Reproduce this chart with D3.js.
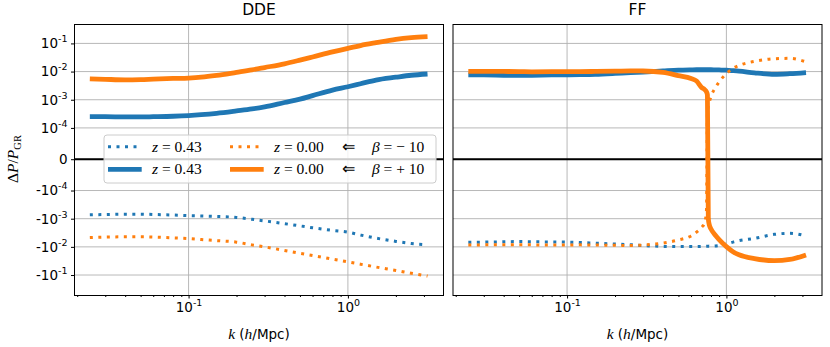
<!DOCTYPE html>
<meta charset="UTF-8">
<style>
  body { margin: 0; background: #fff; }
  text { font-family: "DejaVu Sans", sans-serif; }
  .math { font-family: "Liberation Serif", serif; }
</style>
<svg width="830" height="347"></svg>
<script src="https://d3js.org/d3.v7.min.js"></script>
<script>

// wavenumbers k (h/Mpc)
var kDDE = [0.024, 0.03, 0.04, 0.05, 0.06, 0.08, 0.1, 0.12, 0.15, 0.2, 0.25, 0.3, 0.4, 0.5, 0.6, 0.8, 1.0, 1.2, 1.5, 2.0, 2.5, 3.16];
var kFF = [0.024, 0.03, 0.04, 0.05, 0.06, 0.08, 0.1, 0.12, 0.15, 0.2, 0.25, 0.3, 0.4, 0.5, 0.6, 0.65, 0.7, 0.73, 0.75, 0.76, 0.77, 0.78, 0.8, 0.85, 0.9, 1.0, 1.1, 1.2, 1.5, 2.0, 2.5, 3.16];

// DDE: dP/P_GR, beta = -10 (dotted) and beta = +10 (solid)
var ddeZ043Minus = [-7.3e-4, -7.1e-4, -6.9e-4, -6.9e-4, -7.1e-4, -7.4e-4, -7.8e-4, -8.0e-4, -8.3e-4, -9.0e-4, -1.05e-3, -1.2e-3, -1.5e-3, -1.8e-3, -2.1e-3, -2.6e-3, -3.0e-3, -3.8e-3, -4.9e-3, -6.4e-3, -7.6e-3, -8.4e-3];
var ddeZ043Plus = [2.5e-4, 2.5e-4, 2.45e-4, 2.45e-4, 2.5e-4, 2.6e-4, 2.75e-4, 2.95e-4, 3.3e-4, 4.0e-4, 4.7e-4, 5.6e-4, 8.0e-4, 1.05e-3, 1.4e-3, 2.2e-3, 2.9e-3, 3.7e-3, 5.0e-3, 6.3e-3, 7.4e-3, 8.2e-3];
var ddeZ000Minus = [-4.7e-3, -4.5e-3, -4.4e-3, -4.4e-3, -4.5e-3, -4.8e-3, -5.1e-3, -5.5e-3, -6.0e-3, -6.8e-3, -8.5e-3, -1.0e-2, -1.34e-2, -1.69e-2, -2.02e-2, -2.72e-2, -3.42e-2, -4.13e-2, -5.2e-2, -6.9e-2, -8.7e-2, -1.09e-1];
var ddeZ000Plus = [5.5e-3, 5.3e-3, 5.1e-3, 5.2e-3, 5.4e-3, 5.7e-3, 5.9e-3, 6.3e-3, 7.3e-3, 9.4e-3, 1.15e-2, 1.39e-2, 1.89e-2, 2.55e-2, 3.3e-2, 5.0e-2, 6.7e-2, 8.4e-2, 1.06e-1, 1.4e-1, 1.6e-1, 1.73e-1];

// FF
var ffZ043Minus = [-6.9e-3, -6.8e-3, -6.6e-3, -6.5e-3, -6.6e-3, -6.7e-3, -6.8e-3, -7.0e-3, -7.4e-3, -7.9e-3, -8.4e-3, -9.0e-3, -9.6e-3, -9.8e-3, -9.8e-3, -9.8e-3, -9.7e-3, -9.6e-3, -9.5e-3, -9.5e-3, -9.5e-3, -9.4e-3, -9.4e-3, -9.3e-3, -9.0e-3, -7.9e-3, -6.8e-3, -6.0e-3, -5.0e-3, -3.6e-3, -3.3e-3, -4.1e-3];
var ffZ043Plus = [7.6e-3, 7.6e-3, 7.4e-3, 7.3e-3, 7.4e-3, 7.6e-3, 7.7e-3, 7.8e-3, 8.0e-3, 8.6e-3, 9.2e-3, 9.6e-3, 1.05e-2, 1.12e-2, 1.15e-2, 1.16e-2, 1.16e-2, 1.16e-2, 1.16e-2, 1.16e-2, 1.16e-2, 1.16e-2, 1.16e-2, 1.15e-2, 1.14e-2, 1.12e-2, 1.08e-2, 1.04e-2, 9.0e-3, 8.0e-3, 8.4e-3, 9.2e-3];
var ffZ000Minus = [-8.6e-3, -8.5e-3, -8.4e-3, -8.4e-3, -8.5e-3, -8.6e-3, -8.6e-3, -8.5e-3, -8.6e-3, -8.8e-3, -9.0e-3, -8.6e-3, -7.3e-3, -5.7e-3, -4.1e-3, -3.0e-3, -2.0e-3, -1.4e-3, -4.9e-4, 3.0e-4, 6.0e-4, 8.0e-4, 1.3e-3, 2.6e-3, 4.3e-3, 8.5e-3, 1.3e-2, 1.65e-2, 2.3e-2, 2.85e-2, 2.95e-2, 2.2e-2];
var ffZ000Plus = [1.02e-2, 1.02e-2, 1.01e-2, 1.0e-2, 9.8e-3, 9.9e-3, 1.0e-2, 1.0e-2, 1.01e-2, 1.03e-2, 1.06e-2, 1.05e-2, 9.3e-3, 7.2e-3, 5.7e-3, 4.6e-3, 2.7e-3, 2.3e-3, 1.9e-3, 1.5e-3, -1.0e-3, -1.6e-3, -2.3e-3, -3.8e-3, -5.5e-3, -9.8e-3, -1.48e-2, -1.9e-2, -2.6e-2, -3.1e-2, -2.8e-2, -1.94e-2];

var panelTitles = ["DDE", "FF"];
var yTicks = [-1e-1, -1e-2, -1e-3, -1e-4, 0, 1e-4, 1e-3, 1e-2, 1e-1];
var xMajor = [0.1, 1];
var legendLabels = [["z = 0.43", ""], ["z = 0.43", ""], ["z = 0.00", "\u03b2 = \u2212 10"], ["z = 0.00", "\u03b2 = + 10"]];

var blue = "#1f77b4", orange = "#ff7f0e";

var svg = d3.select("svg"),
    plotTop = 24, plotBottom = 295, panelW = 369,
    panelX = [74.5, 453];

// matplotlib-like symlog: linthresh 1e-4, linscale 1
var linthresh = 1e-4, linscale = 1 / (1 - 1 / 10);
function symlog(v) {
    var a = Math.abs(v);
    if (a <= linthresh) return v / linthresh * linscale;
    return Math.sign(v) * (linscale + Math.log10(a / linthresh));
}
var yT = d3.scaleLinear().domain([-4.82, 4.80]).range([plotBottom, plotTop]);
function y(v) { return yT(symlog(v)); }

var x = d3.scaleLog().domain([Math.pow(10, -1.716), Math.pow(10, 0.6)]).range([0, panelW]);

var xMinor = [];
[0.01, 0.1, 1].forEach(function(d) { for (var i = 2; i <= 9; i++) xMinor.push(d * i); });
xMinor = xMinor.filter(function(v) { return x(v) >= 0 && x(v) <= panelW; });

function powLabel(sel, v) {
    // writes "10^e" (with sign) into a text element
    var t = d3.select(sel);
    t.text(null);
    if (v === 0) { t.text("0"); return; }
    var e = Math.round(Math.log10(Math.abs(v)));
    t.append("tspan").text((v < 0 ? "-" : "") + "10");
    t.append("tspan").attr("dy", -6).attr("font-size", 9.5).text(e);
}

var panels = [
    {k: kDDE, series: [ddeZ043Minus, ddeZ043Plus, ddeZ000Minus, ddeZ000Plus]},
    {k: kFF, series: [ffZ043Minus, ffZ043Plus, ffZ000Minus, ffZ000Plus]}
];
var styles = [
    {color: blue, dotted: true}, {color: blue, dotted: false},
    {color: orange, dotted: true}, {color: orange, dotted: false}
];

panels.forEach(function(p, pi) {
    var g = svg.append("g").attr("transform", "translate(" + panelX[pi] + ",0)");

    // grid
    g.selectAll(".gy").data(yTicks).enter().append("line")
        .attr("x1", 0).attr("x2", panelW)
        .attr("y1", function(d) { return y(d); }).attr("y2", function(d) { return y(d); })
        .attr("stroke", "#b0b0b0").attr("stroke-width", 0.9);
    g.selectAll(".gx").data(xMajor).enter().append("line")
        .attr("x1", function(d) { return x(d); }).attr("x2", function(d) { return x(d); })
        .attr("y1", plotTop).attr("y2", plotBottom)
        .attr("stroke", "#b0b0b0").attr("stroke-width", 0.9);

    // zero line
    g.append("line").attr("x1", 0).attr("x2", panelW)
        .attr("y1", y(0)).attr("y2", y(0))
        .attr("stroke", "#000").attr("stroke-width", 2);

    p.series.forEach(function(vals, si) {
        var st = styles[si];
        var line = d3.line()
            .curve(d3.curveMonotoneX)
            .x(function(d, i) { return x(p.k[i]); })
            .y(function(d) { return y(d); });
        g.append("path")
            .datum(vals)
            .attr("fill", "none")
            .attr("stroke", st.color)
            .attr("stroke-width", st.dotted ? 3 : 4.8)
            .attr("stroke-dasharray", st.dotted ? "3,5.5" : null)
            .attr("stroke-linejoin", "round")
            .attr("d", line);
    });

    // x axis (major + minor ticks)
    var ax = g.append("g").attr("transform", "translate(0," + plotBottom + ")")
        .call(d3.axisBottom(x).tickValues(xMajor).tickSize(3.5).tickPadding(4));
    ax.select(".domain").remove();
    ax.selectAll("text").attr("font-size", 13.5).attr("font-family", "DejaVu Sans")
        .each(function(d) { powLabel(this, d); });
    var axm = g.append("g").attr("transform", "translate(0," + plotBottom + ")")
        .call(d3.axisBottom(x).tickValues(xMinor).tickSize(2).tickFormat(""));
    axm.select(".domain").remove();

    if (pi === 0) {
        var ay = g.append("g").call(d3.axisLeft(yT).tickValues(yTicks.map(symlog)).tickSize(3.5).tickPadding(3.5));
        ay.select(".domain").remove();
        ay.selectAll("text").attr("font-size", 13.5).attr("font-family", "DejaVu Sans")
            .each(function(d, i) { powLabel(this, yTicks[i]); });
    }

    // frame
    g.append("rect").attr("x", 0).attr("y", plotTop + 0.5)
        .attr("width", panelW).attr("height", plotBottom - plotTop)
        .attr("fill", "none").attr("stroke", "#000").attr("stroke-width", 1);

    // title
    g.append("text").attr("x", panelW / 2).attr("y", 15)
        .attr("text-anchor", "middle").attr("font-size", 15.5)
        .text(panelTitles[pi]);

    // x label
    var xl = g.append("text").attr("x", panelW / 2).attr("y", 339)
        .attr("text-anchor", "middle").attr("font-size", 13.5);
    xl.append("tspan").attr("class", "math").attr("font-style", "italic").attr("font-size", 15.5).text("k");
    xl.append("tspan").text(" (");
    xl.append("tspan").attr("class", "math").attr("font-style", "italic").attr("font-size", 15.5).text("h");
    xl.append("tspan").text("/Mpc)");

    if (pi === 0) {
        // legend
        var lg = g.append("g").attr("transform", "translate(" + (104 - panelX[0]) + ",0)");
        lg.append("rect").attr("x", 0).attr("y", 135).attr("width", 332).attr("height", 48)
            .attr("rx", 3).attr("fill", "#fff").attr("fill-opacity", 0.8)
            .attr("stroke", "#cccccc").attr("stroke-width", 1);
        var rowY = [146.7, 169.3], colX = [4, 126];
        styles.forEach(function(st, i) {
            var col = Math.floor(i / 2), row = i % 2;
            var cx = colX[col], cy = rowY[row];
            lg.append("line").attr("x1", cx).attr("x2", cx + 33.7)
                .attr("y1", cy).attr("y2", cy)
                .attr("stroke", st.color)
                .attr("stroke-width", st.dotted ? 3 : 4.8)
                .attr("stroke-dasharray", st.dotted ? "3,5.5" : null);
            var t = lg.append("text").attr("class", "math").attr("x", cx + 44).attr("y", cy + 5)
                .attr("font-size", 15.5);
            var zl = legendLabels[i][0].split(" ");
            t.append("tspan").attr("font-style", "italic").text(zl[0]);
            t.append("tspan").text(" " + zl.slice(1).join(" "));
            if (legendLabels[i][1]) {
                lg.append("text").attr("class", "math").attr("x", cx + 112).attr("y", cy + 5)
                    .attr("font-size", 15.5).text("\u21d0");
                var b = lg.append("text").attr("class", "math").attr("x", cx + 142).attr("y", cy + 5)
                    .attr("font-size", 15.5);
                var bl = legendLabels[i][1].split(" ");
                b.append("tspan").attr("font-style", "italic").text(bl[0]);
                b.append("tspan").text(" " + bl.slice(1).join(" "));
            }
        });
    }
});

// y label
var yl = svg.append("text").attr("class", "math")
    .attr("transform", "translate(18,159) rotate(-90)")
    .attr("text-anchor", "middle").attr("font-size", 15.5);
yl.append("tspan").text("\u0394");
yl.append("tspan").attr("font-style", "italic").text("P");
yl.append("tspan").text("/");
yl.append("tspan").attr("font-style", "italic").text("P");
yl.append("tspan").attr("font-size", 10.5).attr("dy", 3).text("GR");

</script>
